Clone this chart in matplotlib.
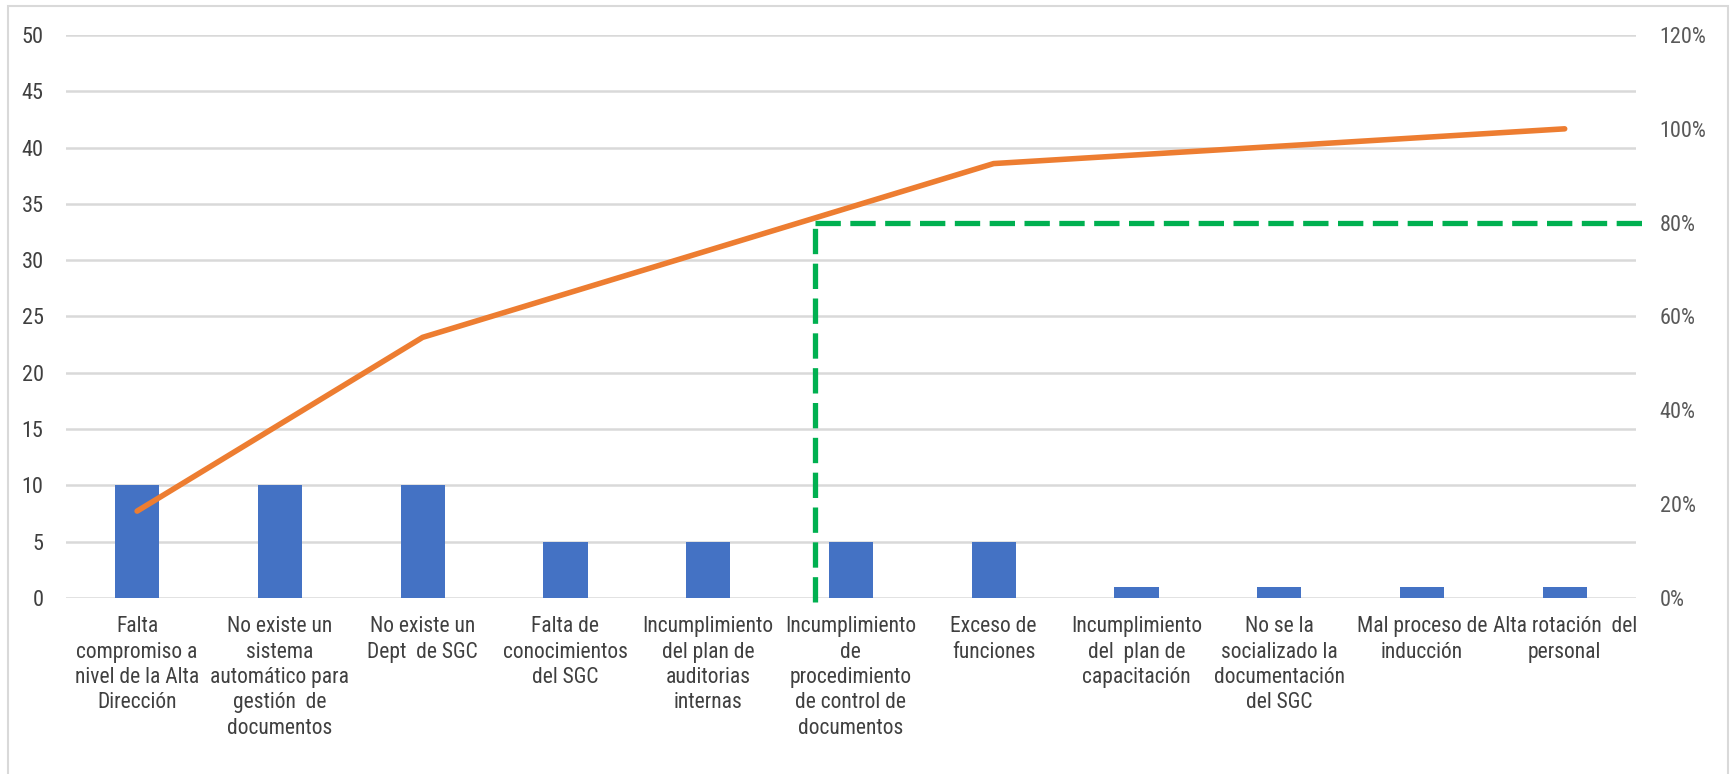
"""
Diagrama de Pareto de las causas de problemas del SGC.
Barras = frecuencia (eje izq.), línea = % acumulado (eje der.).
"""
import matplotlib
matplotlib.use("Agg")
import matplotlib.pyplot as plt
from matplotlib.patches import Rectangle
from matplotlib.ticker import FuncFormatter

causas = [
    "Falta\ncompromiso a\nnivel de la Alta\nDirección",
    "No existe un\nsistema\nautomático para\ngestión  de\ndocumentos",
    "No existe un\nDept  de SGC",
    "Falta de\nconocimientos\ndel SGC",
    "Incumplimiento\ndel plan de\nauditorias\ninternas",
    "Incumplimiento\nde\nprocedimiento\nde control de\ndocumentos",
    "Exceso de\nfunciones",
    "Incumplimiento\ndel  plan de\ncapacitación",
    "No se la\nsocializado la\ndocumentación\ndel SGC",
    "Mal proceso de\ninducción",
    "Alta rotación  del\npersonal",
]
frecuencia = [10, 10, 10, 5, 5, 5, 5, 1, 1, 1, 1]
umbral_pct = 80
# posición (en categorías) donde se trazó la línea del 80 %
corte_x = 4.75

left_ticks = list(range(0, 55, 5))
right_ticks = list(range(0, 140, 20))

AZUL = "#4472C4"
NARANJA = "#ED7D31"
VERDE = "#00B050"
GRIS = "#D9D9D9"
TEXTO = "#404040"
FONT = ["Roboto Condensed", "Lato", "DejaVu Sans"]

total = sum(frecuencia)
acum = []
s = 0
for f in frecuencia:
    s += f
    acum.append(s / total * 100)

fig = plt.figure(figsize=(17.3, 7.74), dpi=100)
ax = fig.add_axes([0.038, 0.2274, 0.9077, 0.7274])
ax2 = ax.twinx()

x = list(range(len(causas)))
ax.bar(x, frecuencia, width=0.31, color=AZUL, zorder=3)
ax.set_xlim(-0.5, len(causas) - 0.5)
ax.set_ylim(0, 50)
ax.set_yticks(left_ticks)
ax.grid(axis="y", color=GRIS, linewidth=1.8, zorder=0)
ax.set_axisbelow(True)

ax2.set_ylim(0, 120)
ax2.set_yticks(right_ticks)
ax2.yaxis.set_major_formatter(FuncFormatter(lambda v, p: f"{v:.0f}%"))
ax2.plot(x, acum, color=NARANJA, linewidth=4, solid_capstyle="round", zorder=4)

# Línea del 80 %
ax2.plot([corte_x, corte_x], [-0.8, umbral_pct], color=VERDE, linewidth=3.8,
         dashes=(4.8, 1.8), clip_on=False, zorder=5)
ax2.plot([corte_x, len(causas) - 0.40], [umbral_pct, umbral_pct], color=VERDE,
         linewidth=3.8, dashes=(4.8, 1.8), clip_on=False, zorder=5)

ax.set_xticks(x)
ax.set_xticklabels(causas, fontsize=15.5, family=FONT, color=TEXTO,
                   linespacing=1.28, va="top")
for a in (ax, ax2):
    for sp in a.spines.values():
        sp.set_visible(False)
    a.tick_params(length=0)
ax.tick_params(axis="x", pad=13)
ax.tick_params(axis="y", pad=16)
ax2.tick_params(axis="y", pad=17)
for lab in ax.get_yticklabels():
    lab.set_fontfamily(FONT)
    lab.set_fontsize(16)
    lab.set_color(TEXTO)
for lab in ax2.get_yticklabels():
    lab.set_fontfamily(FONT)
    lab.set_fontsize(16)
    lab.set_color("#595959")

# marco del gráfico
fig.patches.append(Rectangle((0.0046, -0.05), 0.9944, 1.0426,
                             transform=fig.transFigure, fill=False,
                             edgecolor=GRIS, linewidth=1.5))

fig.savefig("out.png", dpi=100)
